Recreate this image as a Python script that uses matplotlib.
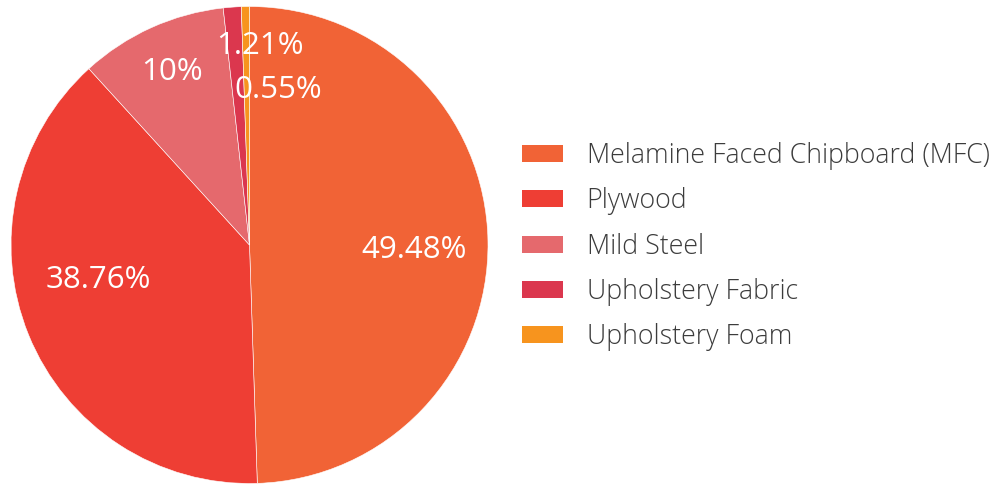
import matplotlib
matplotlib.use("Agg")
import matplotlib.pyplot as plt
from matplotlib.patches import Patch

categories = ["Melamine Faced Chipboard (MFC)", "Plywood", "Mild Steel",
              "Upholstery Fabric", "Upholstery Foam"]
values = [49.48, 38.76, 10.0, 1.21, 0.55]
value_labels = ["49.48%", "38.76%", "10%", "1.21%", "0.55%"]
colors = ["#F16336", "#EE3E34", "#E5696D", "#DB374E", "#F7941E"]
# label positions in units of pie radius (layout only)
label_pos = [(0.689, -0.021), (-0.634, -0.147), (-0.326, 0.727),
             (0.044, 0.836), (0.120, 0.651)]

W, H = 995, 484
fig = plt.figure(figsize=(W / 100, H / 100), dpi=100)
cx, cy, r = 249.5, 245.0, 238.5
ax = fig.add_axes([(cx - r) / W, (H - cy - r) / H, 2 * r / W, 2 * r / H])
ax.pie(values, colors=colors, startangle=90, counterclock=False, radius=1,
       wedgeprops=dict(edgecolor="white", linewidth=0.4))
ax.set_xlim(-1, 1)
ax.set_ylim(-1, 1)
ax.set_aspect("equal")
ax.axis("off")

for lab, (x, y) in zip(value_labels, label_pos):
    ax.text(x, y, lab, ha="center", va="center", color="white",
            fontsize=22.5, family="Open Sans", fontweight="normal")

handles = [Patch(facecolor=c, edgecolor="none") for c in colors]
leg = fig.legend(handles, categories, loc="upper left",
                 bbox_to_anchor=(522 / W, 1 - 142 / H), frameon=False,
                 prop=dict(family="Open Sans", weight="light", size=19.3),
                 handlelength=1.53, handleheight=0.595, handletextpad=0.88,
                 labelspacing=0.645, borderaxespad=0, borderpad=0)
for t in leg.get_texts():
    t.set_color("#3c3c3c")

fig.savefig("out.png", dpi=100)
